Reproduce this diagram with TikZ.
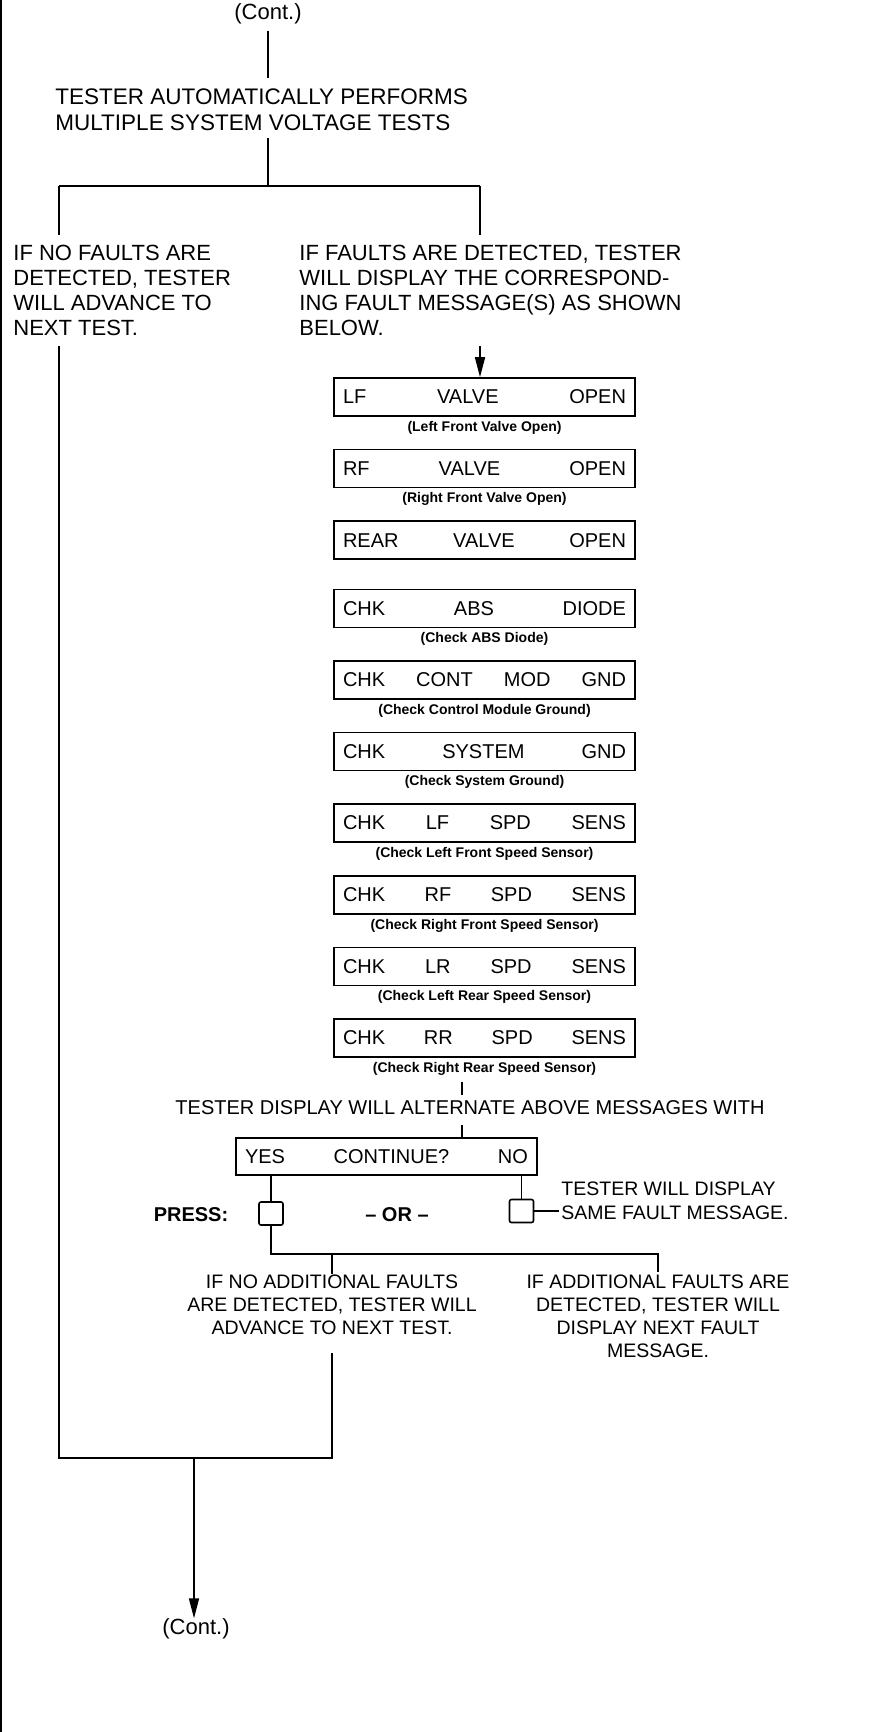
\documentclass[tikz,border=0pt]{standalone}
\usepackage{fontspec}
\setmainfont{Liberation Sans}
\usetikzlibrary{positioning,arrows.meta}

\begin{document}
\begin{tikzpicture}[
    x=0.5pt, y=-0.5pt,
    font=\fontsize{11}{12.5}\selectfont,
    % --- plain text blocks ---
    txt/.style={inner sep=0pt, align=left},
    low/.style={inner sep=0pt, align=center, font=\fontsize{9.75}{11.65}\selectfont},
    % --- tester display window ---
    msg/.style={draw, line width=0.8pt, minimum width=150.5pt, minimum height=19pt,
                inner sep=0pt, text width=141.5pt, font=\fontsize{10}{12}\selectfont},
    % --- caption under a display ---
    msgnote/.style={inner sep=0pt, font=\fontsize{7}{8}\selectfont\bfseries},
    % --- push button ---
    key/.style={draw, line width=0.8pt, rounded corners=1pt, minimum width=12pt,
                minimum height=11.5pt, inner sep=0pt},
    link/.style={line width=0.8pt},
    flow/.style={link, -{Triangle[length=10pt,width=5pt]}},
  ]
  \useasboundingbox (0,0) rectangle (869,1732);
  \draw[line width=1pt] (1,0) -- (1,1732);

  % ---- TOP: automatic voltage tests ---------------------------------------
  \node[txt] (conttop) at (268,14) {(Cont.)};
  \node[txt, anchor=north west, font=\fontsize{11.25}{13}\selectfont] (title) at (55,88)
        {TESTER AUTOMATICALLY PERFORMS\\MULTIPLE SYSTEM VOLTAGE TESTS};
  \draw[link] ([yshift=-3pt]conttop.south) -- ([yshift=4.75pt]conttop.south |- title.north);

  \coordinate (fork) at (268,186);
  \coordinate (nofork) at (59,186);
  \coordinate (faultfork) at (480,186);
  \draw[link] ([yshift=-3.75pt]title.south -| fork) -- (fork);
  \draw[link] (nofork) -- (faultfork);

  % ---- the two outcomes ----------------------------------------------------
  \node[txt, anchor=north west] (notext) at (13,245)
        {IF NO FAULTS ARE\\DETECTED, TESTER\\WILL ADVANCE TO\\NEXT TEST.};
  \node[txt, anchor=north west] (faulttext) at (299,245)
        {IF FAULTS ARE DETECTED, TESTER\\WILL DISPLAY THE CORRESPOND-\\ING FAULT MESSAGE(S) AS SHOWN\\BELOW.};
  \draw[link] (nofork) -- ([yshift=5pt]nofork |- notext.north);
  \draw[link] (faultfork) -- ([yshift=5pt]faultfork |- faulttext.north);

  % ---- fault messages ------------------------------------------------------
  \node[msg] (lf) at (484.5,397) {LF\hfill VALVE\hfill OPEN};
  \node[msgnote, below=2pt of lf] (lfnote) {(Left Front Valve Open)};
  \node[msg, below=16pt of lf] (rf) {RF\hfill VALVE\hfill OPEN};
  \node[msgnote, below=2pt of rf] (rfnote) {(Right Front Valve Open)};
  \node[msg, below=16pt of rf] (rear) {REAR\hfill VALVE\hfill OPEN};
  \node[msg, below=14.25pt of rear] (abs) {CHK\hfill ABS\hfill DIODE};
  \node[msgnote, below=2pt of abs] (absnote) {(Check ABS Diode)};
  \node[msg, below=16pt of abs] (modgnd) {CHK\hfill CONT\hfill MOD\hfill GND};
  \node[msgnote, below=2pt of modgnd] (modgndnote) {(Check Control Module Ground)};
  \node[msg, below=16pt of modgnd] (sysgnd) {CHK\hfill SYSTEM\hfill GND};
  \node[msgnote, below=2pt of sysgnd] (sysgndnote) {(Check System Ground)};
  \node[msg, below=16pt of sysgnd] (lfsens) {CHK\hfill LF\hfill SPD\hfill SENS};
  \node[msgnote, below=2pt of lfsens] (lfsensnote) {(Check Left Front Speed Sensor)};
  \node[msg, below=16pt of lfsens] (rfsens) {CHK\hfill RF\hfill SPD\hfill SENS};
  \node[msgnote, below=2pt of rfsens] (rfsensnote) {(Check Right Front Speed Sensor)};
  \node[msg, below=16pt of rfsens] (lrsens) {CHK\hfill LR\hfill SPD\hfill SENS};
  \node[msgnote, below=2pt of lrsens] (lrsensnote) {(Check Left Rear Speed Sensor)};
  \node[msg, below=16pt of lrsens] (rrsens) {CHK\hfill RR\hfill SPD\hfill SENS};
  \node[msgnote, below=2pt of rrsens] (rrsensnote) {(Check Right Rear Speed Sensor)};

  \draw[flow] ([yshift=-4.75pt]faultfork |- faulttext.south) -- (faultfork |- lf.north);

  % ---- continue prompt -----------------------------------------------------
  \coordinate (feed) at (462,0);
  \node[txt, font=\fontsize{10}{12}\selectfont] (alttext) at (470,1108)
        {TESTER DISPLAY WILL ALTERNATE ABOVE MESSAGES WITH};
  \node[msg, minimum height=18.5pt] (ask) at (386.5,1156.5) {YES\hfill CONTINUE?\hfill NO};
  \draw[link] ([yshift=-3pt]feed |- rrsensnote.south) -- ([yshift=3pt]feed |- alttext.north);
  \draw[link] ([yshift=-5pt]feed |- alttext.south) -- (feed |- ask.north);

  \node[key] (yeskey) at (271,1213.5) {};
  \node[key] (nokey) at (521.5,1211) {};
  \draw[link] (yeskey.north |- ask.south) -- (yeskey.north);
  \draw[link] (nokey.north |- ask.south) -- (nokey.north);
  \node[txt, font=\fontsize{10}{12}\selectfont\bfseries] (press) at (191,1215) {PRESS:};
  \node[txt, font=\fontsize{10}{12}\selectfont\bfseries] (orsep) at (397,1215) {-- OR --};

  \node[txt, anchor=north west, font=\fontsize{9.75}{12}\selectfont] (sametext) at (561,1181)
        {TESTER WILL DISPLAY\\SAME FAULT MESSAGE.};
  \draw[link] (nokey.east) -- ([xshift=-1pt]nokey.east -| sametext.west);

  % ---- after pressing YES ----------------------------------------------------
  \coordinate (nomorefork) at (332,1254);
  \coordinate (morefork) at (658,1254);
  \node[low, anchor=north] (nomoretext) at (332,1274)
        {IF NO ADDITIONAL FAULTS\\ARE DETECTED, TESTER WILL\\ADVANCE TO NEXT TEST.};
  \node[low, anchor=north] (moretext) at (658,1274)
        {IF ADDITIONAL FAULTS ARE\\DETECTED, TESTER WILL\\DISPLAY NEXT FAULT\\MESSAGE.};
  \draw[link] (yeskey.south) |- (morefork) -- ([yshift=1pt]moretext.north);
  \draw[link] (nomorefork) -- (nomoretext.north);

  % ---- merge and leave -------------------------------------------------------
  \coordinate (merge) at (194,1458);
  \coordinate (mergeR) at (332,1458);
  \node[txt] (contbot) at (196,1629) {(Cont.)};
  \draw[link] ([yshift=-4.75pt]nofork |- notext.south) |- (mergeR)
        -- ([yshift=-9pt]nomoretext.south);
  \draw[flow] (merge) -- (merge |- contbot.north);
\end{tikzpicture}
\end{document}
